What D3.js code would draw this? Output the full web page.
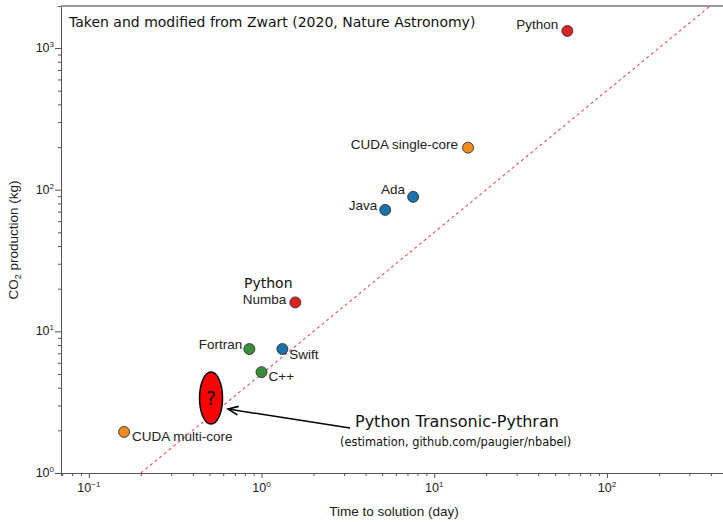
<!DOCTYPE html>
<html>
<head>
<meta charset="utf-8">
<style>
    body { margin: 0; background: #fff; }
    svg { display: block; }
    .axis text { font-family: 'Liberation Sans', Arial, sans-serif; font-size: 12px; fill: #222; }
    .axis line, .axis path { stroke: #555; }
    .lab { font-family: 'Liberation Sans', Arial, sans-serif; font-size: 13.5px; fill: #222; }
    .dv { font-family: 'DejaVu Sans', sans-serif; fill: #111; }
</style>
</head>
<body>
<svg width="723" height="522"></svg>
<script src="https://d3js.org/d3.v7.min.js"></script>
<script>
    // data (time in days, CO2 in kg)
    let languages = ["Python", "CUDA single-core", "Ada", "Java", "Numba", "Fortran", "Swift", "C++", "CUDA multi-core"]
    let timeDays = [59, 15.7, 7.55, 5.2, 1.57, 0.85, 1.32, 1.0, 0.16]
    let co2kg = [1320, 198, 89, 72, 16, 7.5, 7.5, 5.15, 1.95]
    let groups = ["python", "cuda", "blue", "blue", "python", "green", "blue", "green", "cuda"]

    let estimate = {time: 0.51, co2: 3.38}
    let refLine = [[0.2, 1], [500, 2500]]

    let xMajor = [0.1, 1, 10, 100]
    let xMajorExp = ["\u22121", "0", "1", "2"]
    let yMajor = [1, 10, 100, 1000]
    let yMajorExp = ["0", "1", "2", "3"]

    let width = 723
    let height = 522
    let margin = {top: 6, right: 0, bottom: 49, left: 61}

    let svg = d3.select("svg")

    let x = d3.scaleLog()
        .domain([0.069, 470])
        .range([margin.left, width - margin.right])

    let y = d3.scaleLog()
        .domain([1, 1980])
        .range([height - margin.bottom, margin.top])

    let color = d3.scaleOrdinal()
        .domain(["python", "cuda", "blue", "green"])
        .range(["#dc2323", "#f08a1f", "#1a72a8", "#3a8b3a"])

    svg.append("clipPath").attr("id", "plot")
        .append("rect")
        .attr("x", margin.left).attr("y", margin.top)
        .attr("width", width - margin.left - margin.right)
        .attr("height", height - margin.top - margin.bottom)

    // minor ticks
    let xMinor = x.ticks().filter(d => !xMajor.includes(d))
    let yMinor = y.ticks().filter(d => !yMajor.includes(d))

    svg.append("g")
        .attr("class", "axis")
        .attr("transform", `translate(0, ${height - margin.bottom})`)
        .call(d3.axisBottom(x).tickValues(xMinor).tickSize(3).tickFormat(""))

    let xAxis = svg.append("g")
        .attr("class", "axis")
        .attr("transform", `translate(0, ${height - margin.bottom})`)
        .call(d3.axisBottom(x).tickValues(xMajor).tickSize(5).tickFormat(""))
    xAxis.selectAll(".domain").remove()

    svg.append("g")
        .attr("class", "axis")
        .attr("transform", `translate(${margin.left}, 0)`)
        .call(d3.axisLeft(y).tickValues(yMinor).tickSize(3).tickFormat(""))

    let yAxis = svg.append("g")
        .attr("class", "axis")
        .attr("transform", `translate(${margin.left}, 0)`)
        .call(d3.axisLeft(y).tickValues(yMajor).tickSize(6).tickFormat(""))
    yAxis.selectAll(".domain").remove()

    // top frame
    svg.append("line")
        .attr("x1", margin.left).attr("x2", width)
        .attr("y1", margin.top).attr("y2", margin.top)
        .attr("stroke", "#777").attr("stroke-width", 1.5)

    // power-of-ten labels
    xMajor.forEach((v, i) => {
        let t = svg.append("text")
            .attr("class", "lab")
            .attr("x", x(v)).attr("y", height - margin.bottom + 19)
            .attr("text-anchor", "middle")
            .style("font-size", "12.5px")
        t.append("tspan").text("10")
        t.append("tspan").attr("dy", -5).style("font-size", "8px").text(xMajorExp[i])
    })
    yMajor.forEach((v, i) => {
        let t = svg.append("text")
            .attr("class", "lab")
            .attr("x", 54).attr("y", y(v) + 4)
            .attr("text-anchor", "end")
            .style("font-size", "12.5px")
        t.append("tspan").text("10")
        t.append("tspan").attr("dy", -5).style("font-size", "8px").text(yMajorExp[i])
    })

    svg.append("text")
        .attr("class", "lab")
        .attr("x", 394).attr("y", 516)
        .attr("text-anchor", "middle")
        .text("Time to solution (day)")

    let yl = svg.append("text")
        .attr("class", "lab")
        .attr("transform", `translate(18, 240) rotate(-90)`)
        .attr("text-anchor", "middle")
    yl.append("tspan").text("CO")
    yl.append("tspan").attr("dy", 3).style("font-size", "9px").text("2")
    yl.append("tspan").attr("dy", -3).text(" production (kg)")

    // reference line
    svg.append("path")
        .attr("clip-path", "url(#plot)")
        .attr("d", d3.line().x(d => x(d[0])).y(d => y(d[1]))(refLine))
        .attr("fill", "none")
        .attr("stroke", "#e8505a")
        .attr("stroke-width", 1.1)
        .attr("stroke-dasharray", "3,3")

    // points
    let pts = languages.map((l, i) => ({name: l, t: timeDays[i], c: co2kg[i], g: groups[i]}))
    svg.append("g")
        .selectAll("circle")
        .data(pts)
        .join("circle")
        .attr("cx", d => x(d.t))
        .attr("cy", d => y(d.c))
        .attr("r", 5.5)
        .attr("fill", d => color(d.g))
        .attr("stroke", "#333")
        .attr("stroke-width", 0.9)

    // label placement around each point
    let labelPos = {
        "Python": ["end", -9, -2],
        "CUDA single-core": ["end", -10, 1],
        "Ada": ["end", -8, -3],
        "Java": ["end", -8, 0],
        "Numba": ["end", -9, 2],
        "Fortran": ["end", -7, 0],
        "Swift": ["start", 7, 10],
        "C++": ["start", 7, 9],
        "CUDA multi-core": ["start", 8, 9]
    }
    svg.append("g")
        .selectAll("text")
        .data(pts)
        .join("text")
        .attr("class", "lab")
        .attr("x", d => x(d.t) + labelPos[d.name][1])
        .attr("y", d => y(d.c) + labelPos[d.name][2])
        .attr("text-anchor", d => labelPos[d.name][0])
        .text(d => d.name)

    svg.append("text")
        .attr("class", "dv")
        .attr("x", 244).attr("y", 288)
        .style("font-size", "14px")
        .text("Python")

    svg.append("text")
        .attr("class", "dv")
        .attr("x", 69).attr("y", 27)
        .style("font-size", "14px")
        .text("Taken and modified from Zwart (2020, Nature Astronomy)")

    // estimated point
    let ex = x(estimate.time), ey = y(estimate.co2)
    svg.append("ellipse")
        .attr("cx", ex).attr("cy", ey)
        .attr("rx", 11.5).attr("ry", 26)
        .attr("fill", "#ff0000")
        .attr("stroke", "#000")
        .attr("stroke-width", 1.5)
    svg.append("text")
        .attr("class", "dv")
        .attr("x", ex).attr("y", ey + 7)
        .attr("text-anchor", "middle")
        .style("font-size", "19px")
        .text("?")

    // annotation arrow
    let tipX = ex + 17, tipY = ey + 11
    let tailX = 350, tailY = 428
    let ang = Math.atan2(tailY - tipY, tailX - tipX)
    svg.append("line")
        .attr("x1", tailX).attr("y1", tailY)
        .attr("x2", tipX).attr("y2", tipY)
        .attr("stroke", "#000")
        .attr("stroke-width", 1.5)
    let head = d3.path()
    head.moveTo(tipX + 11 * Math.cos(ang - 0.4), tipY + 11 * Math.sin(ang - 0.4))
    head.lineTo(tipX, tipY)
    head.lineTo(tipX + 11 * Math.cos(ang + 0.4), tipY + 11 * Math.sin(ang + 0.4))
    svg.append("path")
        .attr("d", head.toString())
        .attr("fill", "none")
        .attr("stroke", "#000")
        .attr("stroke-width", 1.6)

    svg.append("text")
        .attr("class", "dv")
        .attr("x", 355).attr("y", 427)
        .style("font-size", "16px")
        .text("Python Transonic-Pythran")

    svg.append("text")
        .attr("class", "dv")
        .attr("x", 340).attr("y", 446)
        .style("font-size", "11.4px")
        .text("(estimation, github.com/paugier/nbabel)")
</script>
</body>
</html>
